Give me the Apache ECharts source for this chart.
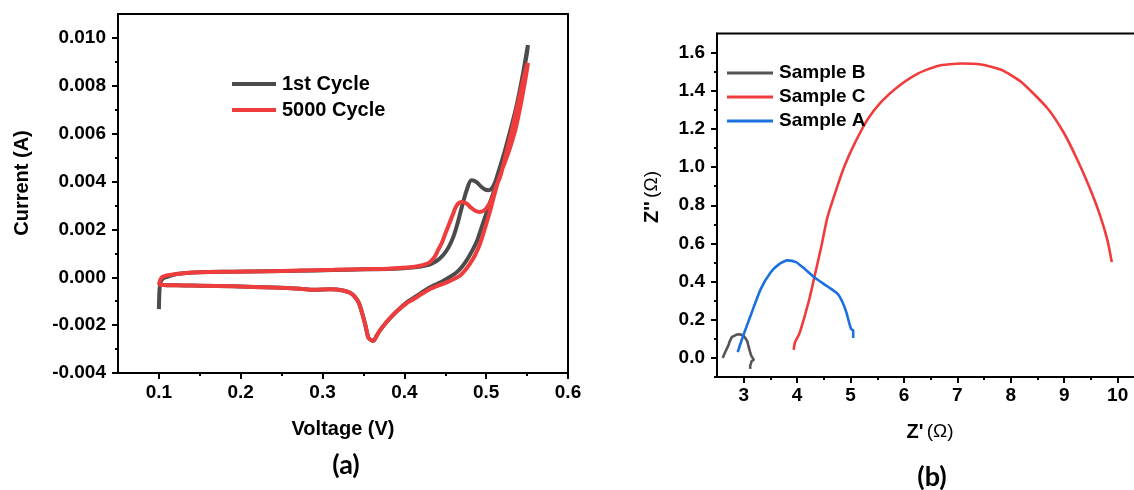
<!DOCTYPE html>
<html>
<head>
<meta charset="utf-8">
<script src="https://cdn.jsdelivr.net/npm/echarts@6/dist/echarts.min.js"></script>
<style>
  html, body { margin: 0; padding: 0; background: #fff; }
  #chart { width: 1134px; height: 490px; }
</style>
</head>
<body>
<div id="chart"></div>
<script>
// ---------- (a) cyclic voltammetry: voltage (V) vs current (A) ----------
const cycle1Volt = [0.1000, 0.1003, 0.1008, 0.1020, 0.1050, 0.1100, 0.1220, 0.1500, 0.1900, 0.2320, 0.2700, 0.3130, 0.3500, 0.3800, 0.3950, 0.4100, 0.4200, 0.4300, 0.4350, 0.4420, 0.4480, 0.4540, 0.4600, 0.4650, 0.4700, 0.4760, 0.4820, 0.4880, 0.4940, 0.4990, 0.5030, 0.5070, 0.5110, 0.5150, 0.5230, 0.5300, 0.5360, 0.5410, 0.5460, 0.5490, 0.5510,
  0.5500, 0.5470, 0.5430, 0.5380, 0.5330, 0.5280, 0.5230, 0.5180, 0.5130, 0.5070, 0.5010, 0.4950, 0.4890, 0.4820, 0.4760, 0.4700, 0.4640, 0.4550, 0.4450, 0.4350, 0.4250, 0.4150, 0.4050, 0.3950, 0.3870, 0.3780, 0.3700, 0.3660, 0.3620, 0.3590, 0.3560, 0.3520, 0.3480, 0.3440, 0.3390, 0.3336, 0.3250, 0.3100, 0.2900, 0.2725, 0.2400, 0.1910, 0.1500, 0.1300, 0.1100, 0.1000];
const cycle1Curr = [-0.00133, -0.00090, -0.00050, -0.00020, -0.00005, 0.00002, 0.00014, 0.00021, 0.00023, 0.00025, 0.00027, 0.00030, 0.00033, 0.00035, 0.00037, 0.00041, 0.00045, 0.00052, 0.00060, 0.00075, 0.00095, 0.00125, 0.00170, 0.00225, 0.00290, 0.00362, 0.00405, 0.00398, 0.00378, 0.00366, 0.00364, 0.00372, 0.00398, 0.00440, 0.00531, 0.00620, 0.00700, 0.00780, 0.00870, 0.00930, 0.00970,
  0.00940, 0.00880, 0.00800, 0.00710, 0.00630, 0.00560, 0.00500, 0.00445, 0.00395, 0.00335, 0.00275, 0.00215, 0.00154, 0.00105, 0.00070, 0.00042, 0.00021, 0.00000, -0.00020, -0.00036, -0.00055, -0.00078, -0.00100, -0.00128, -0.00155, -0.00188, -0.00223, -0.00245, -0.00266, -0.00262, -0.00252, -0.00195, -0.00145, -0.00105, -0.00080, -0.00065, -0.00055, -0.00050, -0.00052, -0.00048, -0.00043, -0.00038, -0.00035, -0.00034, -0.00033, -0.00031];

const cycle5000Volt = [0.1000, 0.1015, 0.1035, 0.1095, 0.1217, 0.1500, 0.1900, 0.2320, 0.2700, 0.3130, 0.3500, 0.3800, 0.3950, 0.4100, 0.4190, 0.4260, 0.4310, 0.4370, 0.4410, 0.4460, 0.4500, 0.4550, 0.4590, 0.4640, 0.4700, 0.4760, 0.4810, 0.4860, 0.4920, 0.4970, 0.5000, 0.5040, 0.5080, 0.5120, 0.5170, 0.5210, 0.5250, 0.5300, 0.5350, 0.5400, 0.5450, 0.5490, 0.5510,
  0.5500, 0.5460, 0.5410, 0.5360, 0.5300, 0.5250, 0.5200, 0.5150, 0.5100, 0.5050, 0.4990, 0.4925, 0.4860, 0.4800, 0.4740, 0.4680, 0.4600, 0.4520, 0.4420, 0.4310, 0.4210, 0.4110, 0.4030, 0.3950, 0.3866, 0.3780, 0.3700, 0.3660, 0.3620, 0.3590, 0.3560, 0.3520, 0.3480, 0.3440, 0.3390, 0.3336, 0.3250, 0.3100, 0.2900, 0.2725, 0.2400, 0.1910, 0.1500, 0.1300, 0.1100, 0.1000];
const cycle5000Curr = [-0.00032, -0.00012, 0.00000, 0.00008, 0.00014, 0.00021, 0.00023, 0.00025, 0.00028, 0.00031, 0.00034, 0.00036, 0.00039, 0.00043, 0.00048, 0.00055, 0.00063, 0.00085, 0.00112, 0.00145, 0.00182, 0.00225, 0.00260, 0.00300, 0.00314, 0.00308, 0.00292, 0.00279, 0.00273, 0.00278, 0.00287, 0.00308, 0.00335, 0.00378, 0.00419, 0.00470, 0.00525, 0.00595, 0.00670, 0.00745, 0.00820, 0.00875, 0.00895,
  0.00870, 0.00790, 0.00700, 0.00620, 0.00550, 0.00500, 0.00455, 0.00405, 0.00345, 0.00280, 0.00210, 0.00140, 0.00090, 0.00056, 0.00028, 0.00007, -0.00008, -0.00021, -0.00034, -0.00050, -0.00070, -0.00092, -0.00108, -0.00130, -0.00155, -0.00188, -0.00223, -0.00245, -0.00266, -0.00262, -0.00252, -0.00195, -0.00145, -0.00105, -0.00080, -0.00065, -0.00055, -0.00050, -0.00052, -0.00048, -0.00043, -0.00038, -0.00035, -0.00034, -0.00033, -0.00032];

const cvVoltTicks = [0.1, 0.2, 0.3, 0.4, 0.5, 0.6];
const cvVoltMinor = [0.15, 0.25, 0.35, 0.45, 0.55];
const cvCurrTicks = [-0.004, -0.002, 0.000, 0.002, 0.004, 0.006, 0.008, 0.010];
const cvCurrMinor = [-0.003, -0.001, 0.001, 0.003, 0.005, 0.007, 0.009];

// ---------- (b) Nyquist plot: Z' (Ω) vs Z'' (Ω) ----------
const sampleBRe = [2.607, 2.650, 2.700, 2.720, 2.735, 2.750, 2.780, 2.820, 2.860, 2.910, 2.950, 2.990, 3.040, 3.070, 3.090, 3.100, 3.120, 3.140, 3.165, 3.190, 3.150, 3.135, 3.120, 3.125];
const sampleBIm = [0.000, 0.028, 0.058, 0.070, 0.085, 0.092, 0.110, 0.115, 0.121, 0.124, 0.122, 0.118, 0.100, 0.085, 0.060, 0.050, 0.030, 0.012, 0.010, -0.010, -0.016, -0.030, -0.042, -0.058];

const sampleCRe = [3.936, 3.960, 4.040, 4.135, 4.230, 4.320, 4.450, 4.570, 4.730, 4.880, 5.070, 5.320, 5.570, 5.880, 6.260, 6.630, 7.070, 7.440, 7.820, 8.190, 8.690, 9.000, 9.250, 9.470, 9.660, 9.810, 9.890];
const sampleCIm = [0.042, 0.082, 0.126, 0.213, 0.310, 0.420, 0.580, 0.740, 0.880, 1.000, 1.120, 1.250, 1.340, 1.420, 1.490, 1.530, 1.543, 1.538, 1.510, 1.447, 1.307, 1.176, 1.036, 0.896, 0.756, 0.616, 0.502];

const sampleARe = [2.888, 2.980, 3.140, 3.320, 3.510, 3.670, 3.820, 3.980, 4.140, 4.320, 4.570, 4.760, 4.850, 4.920, 4.980, 5.010, 5.050, 5.050];
const sampleAIm = [0.030, 0.108, 0.230, 0.362, 0.450, 0.493, 0.511, 0.502, 0.467, 0.423, 0.374, 0.336, 0.292, 0.240, 0.178, 0.152, 0.143, 0.105];

const zReTicks = [3, 4, 5, 6, 7, 8, 9, 10];
const zReMinor = [3.5, 4.5, 5.5, 6.5, 7.5, 8.5, 9.5];
const zImTicks = [0.0, 0.2, 0.4, 0.6, 0.8, 1.0, 1.2, 1.4, 1.6];
const zImMinor = [-0.1, 0.1, 0.3, 0.5, 0.7, 0.9, 1.1, 1.3, 1.5];

const zip = (xs, ys) => xs.map((x, i) => [x, ys[i]]);

const FONT = 'Liberation Sans';
const labelStyle = (size) => ({ fontFamily: FONT, fontWeight: 'bold', fontSize: size, color: '#000' });

function majorAxis(opts) {
  return {
    type: 'value',
    gridIndex: opts.grid,
    position: opts.position,
    min: opts.min,
    max: opts.max,
    axisLine: { show: true, onZero: false, lineStyle: { color: '#000', width: 2 } },
    axisTick: { show: true, customValues: opts.ticks, length: 6, inside: false, lineStyle: { color: '#000', width: 2 } },
    axisLabel: Object.assign({ customValues: opts.ticks, margin: opts.margin, formatter: opts.fmt }, labelStyle(opts.size)),
    splitLine: { show: false }
  };
}
function minorAxis(opts) {
  return {
    type: 'value',
    gridIndex: opts.grid,
    position: opts.position,
    min: opts.min,
    max: opts.max,
    axisLine: { show: false, onZero: false },
    axisTick: { show: true, customValues: opts.ticks, length: 3, lineStyle: { color: '#000', width: 2 } },
    axisLabel: { show: false },
    splitLine: { show: false }
  };
}

const chart = echarts.init(document.getElementById('chart'), null, { renderer: 'canvas' });

const option = {
  animation: false,
  backgroundColor: '#fff',
  grid: [
    { left: 118, top: 14, width: 450, height: 359, outerBoundsMode: 'none', show: true, borderColor: '#000', borderWidth: 2, backgroundColor: 'transparent' },
    // the right-hand frame edge runs just past the canvas
    { left: 717, top: 33.5, width: 422, height: 343.5, outerBoundsMode: 'none', show: true, borderColor: '#000', borderWidth: 2, backgroundColor: 'transparent' }
  ],
  xAxis: [
    majorAxis({ grid: 0, position: 'bottom', min: 0.05, max: 0.6, ticks: cvVoltTicks, margin: 10, size: 19, fmt: v => v.toFixed(1) }),
    minorAxis({ grid: 0, position: 'bottom', min: 0.05, max: 0.6, ticks: cvVoltMinor }),
    majorAxis({ grid: 1, position: 'bottom', min: 2.5, max: 10.4, ticks: zReTicks, margin: 9, size: 19, fmt: v => String(Math.round(v)) }),
    minorAxis({ grid: 1, position: 'bottom', min: 2.5, max: 10.4, ticks: zReMinor })
  ],
  yAxis: [
    majorAxis({ grid: 0, position: 'left', min: -0.004, max: 0.011, ticks: cvCurrTicks, margin: 12, size: 19, fmt: v => v.toFixed(3) }),
    minorAxis({ grid: 0, position: 'left', min: -0.004, max: 0.011, ticks: cvCurrMinor }),
    majorAxis({ grid: 1, position: 'left', min: -0.1, max: 1.7, ticks: zImTicks, margin: 12, size: 19, fmt: v => v.toFixed(1) }),
    minorAxis({ grid: 1, position: 'left', min: -0.1, max: 1.7, ticks: zImMinor })
  ],
  legend: [
    {
      data: ['1st Cycle', '5000 Cycle'],
      orient: 'vertical', left: 232, top: 74, padding: 0,
      icon: 'rect', itemWidth: 44, itemHeight: 4, itemGap: 6,
      selectedMode: false,
      textStyle: Object.assign({ lineHeight: 20, padding: [0, 0, 0, 1] }, labelStyle(20))
    },
    {
      data: ['Sample B', 'Sample C', 'Sample A'],
      orient: 'vertical', left: 727, top: 63, padding: 0,
      icon: 'rect', itemWidth: 46, itemHeight: 3, itemGap: 4,
      selectedMode: false,
      textStyle: Object.assign({ lineHeight: 20, padding: [0, 0, 0, 1] }, labelStyle(19))
    }
  ],
  series: [
    {
      name: '1st Cycle', type: 'line', xAxisIndex: 0, yAxisIndex: 0,
      data: zip(cycle1Volt, cycle1Curr), showSymbol: false, smooth: 0.3,
      itemStyle: { color: '#4b4b4b' }, lineStyle: { color: '#4b4b4b', width: 4 }
    },
    {
      name: '5000 Cycle', type: 'line', xAxisIndex: 0, yAxisIndex: 0,
      data: zip(cycle5000Volt, cycle5000Curr), showSymbol: false, smooth: 0.3,
      itemStyle: { color: '#ef3d3d' }, lineStyle: { color: '#ef3d3d', width: 4 }
    },
    {
      name: 'Sample B', type: 'line', xAxisIndex: 2, yAxisIndex: 2,
      data: zip(sampleBRe, sampleBIm), showSymbol: false,
      itemStyle: { color: '#555555' }, lineStyle: { color: '#555555', width: 2.6 }
    },
    {
      name: 'Sample C', type: 'line', xAxisIndex: 2, yAxisIndex: 2,
      data: zip(sampleCRe, sampleCIm), showSymbol: false, smooth: 0.2,
      itemStyle: { color: '#f03c3c' }, lineStyle: { color: '#f03c3c', width: 2.6 }
    },
    {
      name: 'Sample A', type: 'line', xAxisIndex: 2, yAxisIndex: 2,
      data: zip(sampleARe, sampleAIm), showSymbol: false, smooth: 0.2,
      itemStyle: { color: '#1b6fde' }, lineStyle: { color: '#1b6fde', width: 2.6 }
    }
  ],
  graphic: [
    { type: 'text', x: 22, y: 183, rotation: Math.PI / 2,
      style: { text: 'Current (A)', fontFamily: FONT, fontWeight: 'bold', fontSize: 20, fill: '#000', align: 'center', verticalAlign: 'middle' } },
    { type: 'text', x: 343, y: 429,
      style: { text: 'Voltage (V)', fontFamily: FONT, fontWeight: 'bold', fontSize: 20, fill: '#000', align: 'center', verticalAlign: 'middle' } },
    { type: 'text', x: 346, y: 465,
      style: { text: '(a)', fontFamily: 'Lato', fontWeight: 'bold', fontSize: 27, fill: '#000', align: 'center', verticalAlign: 'middle' } },
    { type: 'text', x: 652, y: 197, rotation: Math.PI / 2,
      style: {
        text: "{b|Z''} {n|(Ω)}", align: 'center', verticalAlign: 'middle',
        rich: {
          b: { fontFamily: FONT, fontWeight: 'bold', fontSize: 20, fill: '#000' },
          n: { fontFamily: FONT, fontWeight: 'normal', fontSize: 19, fill: '#000' }
        }
      } },
    { type: 'text', x: 930, y: 432,
      style: {
        text: "{b|Z'} {n|(Ω)}", align: 'center', verticalAlign: 'middle',
        rich: {
          b: { fontFamily: FONT, fontWeight: 'bold', fontSize: 20, fill: '#000' },
          n: { fontFamily: FONT, fontWeight: 'normal', fontSize: 19, fill: '#000' }
        }
      } },
    { type: 'text', x: 932, y: 477,
      style: { text: '(b)', fontFamily: 'Lato', fontWeight: 'bold', fontSize: 27, fill: '#000', align: 'center', verticalAlign: 'middle' } }
  ]
};

chart.setOption(option);
</script>
</body>
</html>
